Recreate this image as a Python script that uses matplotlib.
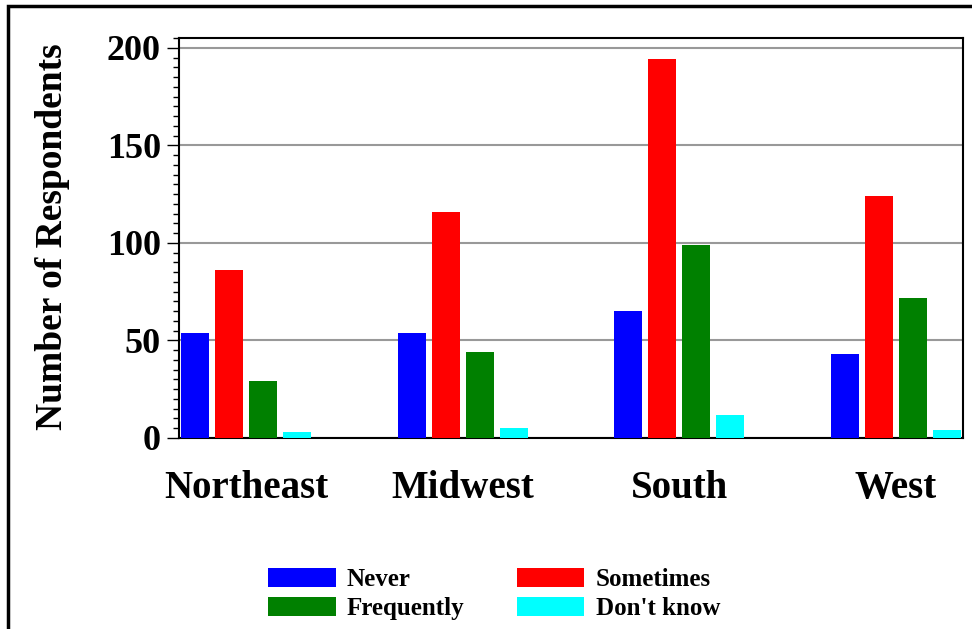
import numpy as np
import matplotlib

matplotlib.use('Agg')
import matplotlib.pyplot as plt
from matplotlib.patches import Rectangle
from matplotlib.ticker import MultipleLocator

# Data
regions = ["Northeast", "Midwest", "South", "West"]
never = [54, 54, 65, 43]
sometimes = [86, 116, 194, 124]
frequently = [29, 44, 99, 72]
dont_know = [3, 5, 12, 4]

series_names = ["Never", "Sometimes", "Frequently", "Don't know"]
series_colors = ["#0000ff", "#ff0000", "#008000", "#00ffff"]

plt.rcParams['font.family'] = ['Liberation Serif', 'DejaVu Serif']
plt.rcParams['font.weight'] = 'bold'

fig = plt.figure(figsize=(9.72, 6.29), dpi=100)
ax = fig.add_axes([179 / 972, 191 / 629, 784 / 972, 400 / 629])

x = np.arange(len(regions))
pitch = 0.157
width = 0.13
bars = []
for k, (vals, color, name) in enumerate(zip([never, sometimes, frequently, dont_know],
                                             series_colors, series_names)):
    b = ax.bar(x + (k - 1.5) * pitch, vals, width, color=color, label=name,
               zorder=3)
    bars.append(b)

ax.set_xlim(-0.309, 3.309)
ax.set_ylim(0, 205)
ax.yaxis.set_major_locator(MultipleLocator(50))
ax.yaxis.set_minor_locator(MultipleLocator(5))
ax.grid(axis='y', which='major', color='#999999', linewidth=1.5, zorder=0)

ax.set_xticks(x)
ax.set_xticklabels(regions, fontsize=28, fontweight='bold')
ax.tick_params(axis='x', length=0, pad=23)
ax.tick_params(axis='y', which='major', length=9, width=1, labelsize=26, pad=4)
ax.tick_params(axis='y', which='minor', length=4, width=1)
for lab in ax.get_yticklabels():
    lab.set_fontweight('bold')

for sp in ax.spines.values():
    sp.set_linewidth(1.5)
    sp.set_color('black')

fig.text(52 / 972, 1 - 237 / 629, "Number of Respondents", rotation=90,
         fontsize=27, fontweight='bold', ha='center', va='center')

# figure border (right and bottom edges run off the picture)
fig.patches.append(Rectangle((8 / 972, -0.1), 1.1, 1 - 6 / 629 + 0.1,
                             transform=fig.transFigure, fill=False,
                             edgecolor='black', linewidth=2.5))

# legend fills column-wise: rows are Never/Sometimes, Frequently/Don't know
order = [0, 2, 1, 3]
leg = fig.legend([bars[i] for i in order], [series_names[i] for i in order],
                 ncol=2, loc='center',
                 bbox_to_anchor=(494 / 972, 1 - 594 / 629), frameon=False,
                 prop={'size': 18, 'weight': 'bold'},
                 handlelength=2.7, handleheight=0.8, handletextpad=0.45,
                 columnspacing=2.1, labelspacing=0.2)

fig.savefig("out.png", dpi=100)
